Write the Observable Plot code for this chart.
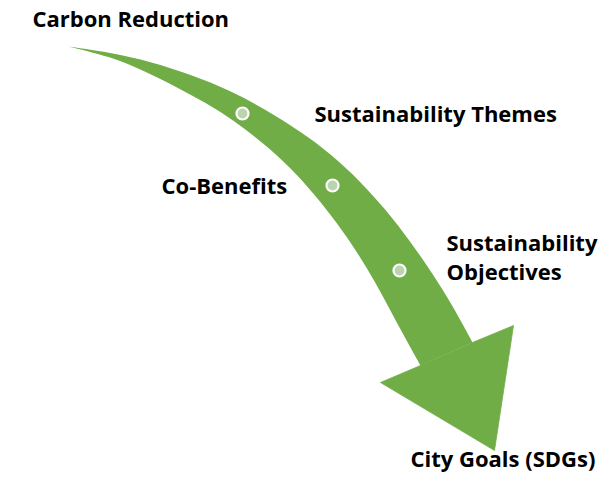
<!DOCTYPE html>
<html>
<head>
<meta charset="utf-8">
<script src="https://cdn.jsdelivr.net/npm/d3@7"></script>
<script src="https://cdn.jsdelivr.net/npm/@observablehq/plot@0.6"></script>
<style>
  html, body { margin: 0; padding: 0; background: #ffffff; }
  #chart svg { display: block; }
</style>
</head>
<body>
<div id="chart"></div>
<script>
// Arrow tail point
const tailX = 68, tailY = 46;
// Shaft: upper/right edge, tail to head
const upperX = [110, 150, 190, 230, 265, 300, 330, 360, 386, 410, 432, 452, 472];
const upperY = [52, 61, 74, 90, 109, 131, 153, 181, 210, 241, 273, 305, 342];
// Shaft: lower/left edge, head back to tail
const lowerX = [420, 406, 391, 375, 357, 337, 314, 290, 263, 235, 205, 175, 145, 110];
const lowerY = [365, 340, 312, 282, 252, 223, 194, 167, 143, 121, 102, 86, 71, 56];
// Arrow head: right barb, tip, left barb (joined to the shaft corners)
const headX = [513, 494, 380];
const headY = [325, 450, 382];

// Stage markers along the arrow
const dotX = [242, 332, 399];
const dotY = [113, 185, 270];

// Labels
const labels = ["Carbon Reduction", "Sustainability Themes", "Co-Benefits", "Sustainability", "Objectives", "City Goals (SDGs)"];
const labelX = [32, 314, 161, 446, 446, 410];
const labelY = [26, 121, 193, 250, 279, 466];

const P = (x, y) => ({x, y});
const last = upperX.length - 1;
const cornerU = P(upperX[last], upperY[last]);
const cornerL = P(lowerX[0], lowerY[0]);
const shaft = [
  P(tailX, tailY),
  ...upperX.slice(0, last).map((x, i) => P(x, upperY[i])),
  // corners repeated so the B-spline passes through them sharply
  cornerU, cornerU, cornerU,
  cornerL, cornerL, cornerL,
  ...lowerX.slice(1).map((x, i) => P(x, lowerY[i + 1])),
  P(tailX, tailY)
];
const head = [cornerU, ...headX.map((x, i) => P(x, headY[i])), cornerL];
const dots = dotX.map((x, i) => P(x, dotY[i]));
const texts = labels.map((t, i) => ({t, x: labelX[i], y: labelY[i]}));

const green = "#70ad47";
const chart = Plot.plot({
  width: 611,
  height: 477,
  margin: 0,
  x: {domain: [0, 611], range: [0, 611], axis: null},
  y: {domain: [0, 477], range: [0, 477], axis: null},
  style: {background: "#ffffff"},
  marks: [
    Plot.line(shaft, {x: "x", y: "y", fill: green, stroke: "none", curve: "basis"}),
    Plot.line(head, {x: "x", y: "y", fill: green, stroke: green, strokeWidth: 0.8, strokeLinejoin: "miter", strokeMiterlimit: 10, curve: "linear-closed"}),
    Plot.dot(dots, {x: "x", y: "y", r: 6, fill: "#bad5ad", stroke: "#ffffff", strokeWidth: 2.2}),
    Plot.text(texts, {
      x: "x", y: "y", text: "t",
      textAnchor: "start", lineAnchor: "bottom",
      fontFamily: "Open Sans", fontWeight: "bold", fontSize: 22, fill: "#000000"
    })
  ]
});
document.getElementById("chart").appendChild(chart);
</script>
</body>
</html>
